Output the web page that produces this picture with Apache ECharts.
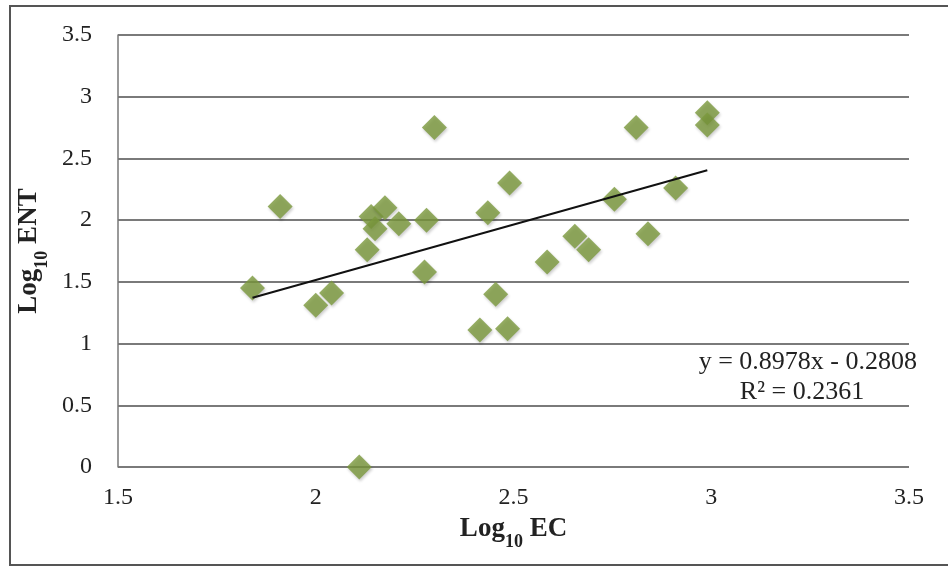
<!DOCTYPE html>
<html>
<head>
<meta charset="utf-8">
<script src="https://cdn.jsdelivr.net/npm/echarts@6/dist/echarts.min.js"></script>
<style>
html,body{margin:0;padding:0;background:#fff;}
#chart{width:948px;height:567px;}
</style>
</head>
<body>
<div id="chart"></div>
<script>
// Data
var ecLog = [1.84, 1.91, 2.00, 2.04, 2.11, 2.13, 2.14, 2.15, 2.175, 2.21, 2.28, 2.275, 2.30, 2.435, 2.415, 2.455, 2.485, 2.49, 2.585, 2.655, 2.69, 2.755, 2.81, 2.84, 2.91, 2.99, 2.99];
var entLog = [1.45, 2.11, 1.31, 1.41, 0.00, 1.76, 2.03, 1.93, 2.10, 1.97, 2.00, 1.58, 2.75, 2.06, 1.11, 1.40, 1.12, 2.30, 1.66, 1.87, 1.76, 2.17, 2.75, 1.89, 2.26, 2.87, 2.77];
var trendSlope = [0.8978];
var trendIntercept = [-0.2808];
var trendXRange = [1.84, 2.99];
var equationText = ['y = 0.8978x - 0.2808', 'R\u00B2 = 0.2361'];
var xTicks = [1.5, 2, 2.5, 3, 3.5];
var yTicks = [0, 0.5, 1, 1.5, 2, 2.5, 3, 3.5];

var points = ecLog.map(function (x, i) { return [x, entLog[i]]; });
var trend = trendXRange.map(function (x) { return [x, trendSlope[0] * x + trendIntercept[0]]; });

var serif = '"Liberation Serif", "DejaVu Serif", serif';
var titleRich = {
  a: {fontFamily: serif, fontSize: 27, fontWeight: 'bold', color: '#222', lineHeight: 30},
  b: {fontFamily: serif, fontSize: 18, fontWeight: 'bold', color: '#222', verticalAlign: 'bottom', lineHeight: 18, padding: [0, 0, -7, 0]}
};
var chart = echarts.init(document.getElementById('chart'), null, {renderer: 'canvas'});
chart.setOption({
  animation: false,
  backgroundColor: '#ffffff',
  grid: {left: 118, right: 39, top: 35, bottom: 100},
  xAxis: {
    type: 'value',
    min: xTicks[0], max: xTicks[xTicks.length - 1], interval: 0.5,
    axisLine: {show: false},
    axisTick: {show: false},
    splitLine: {show: false},
    axisLabel: {fontFamily: serif, fontSize: 24, color: '#222', margin: 19},
    name: '{a|Log}{b|10}{a| EC}',
    nameLocation: 'middle',
    nameGap: 47,
    nameTextStyle: {rich: titleRich}
  },
  yAxis: {
    type: 'value',
    min: yTicks[0], max: yTicks[yTicks.length - 1], interval: 0.5,
    axisLine: {show: true, lineStyle: {color: '#777', width: 1.5}},
    axisTick: {show: false},
    splitLine: {show: true, lineStyle: {color: '#7a7a7a', width: 1.8}},
    axisLabel: {fontFamily: serif, fontSize: 24, color: '#222', margin: 26},
    name: '{a|Log}{b|10}{a| ENT}',
    nameLocation: 'middle',
    nameRotate: 90,
    nameGap: 68,
    nameTextStyle: {rich: titleRich}
  },
  series: [
    {
      type: 'scatter',
      data: points,
      symbol: 'diamond',
      symbolSize: 25,
      itemStyle: {color: '#7b983c', shadowColor: 'rgba(0,0,0,0.25)', shadowBlur: 3, shadowOffsetX: 1, shadowOffsetY: 2},
      z: 3
    },
    {
      type: 'line',
      data: trend,
      symbol: 'none',
      lineStyle: {color: '#111', width: 2},
      z: 4
    }
  ],
  graphic: [
    {type: 'rect', shape: {x: 10, y: 6, width: 960, height: 559}, style: {fill: 'none', stroke: '#555', lineWidth: 2}, z: 0},
    {type: 'text', x: 917, y: 362, style: {text: equationText[0], fontFamily: serif, fontSize: 26, fill: '#222', textAlign: 'right', textVerticalAlign: 'middle'}, z: 10},
    {type: 'text', x: 802, y: 392, style: {text: equationText[1], fontFamily: serif, fontSize: 26, fill: '#222', textAlign: 'center', textVerticalAlign: 'middle'}, z: 10}
  ]
});
</script>
</body>
</html>
